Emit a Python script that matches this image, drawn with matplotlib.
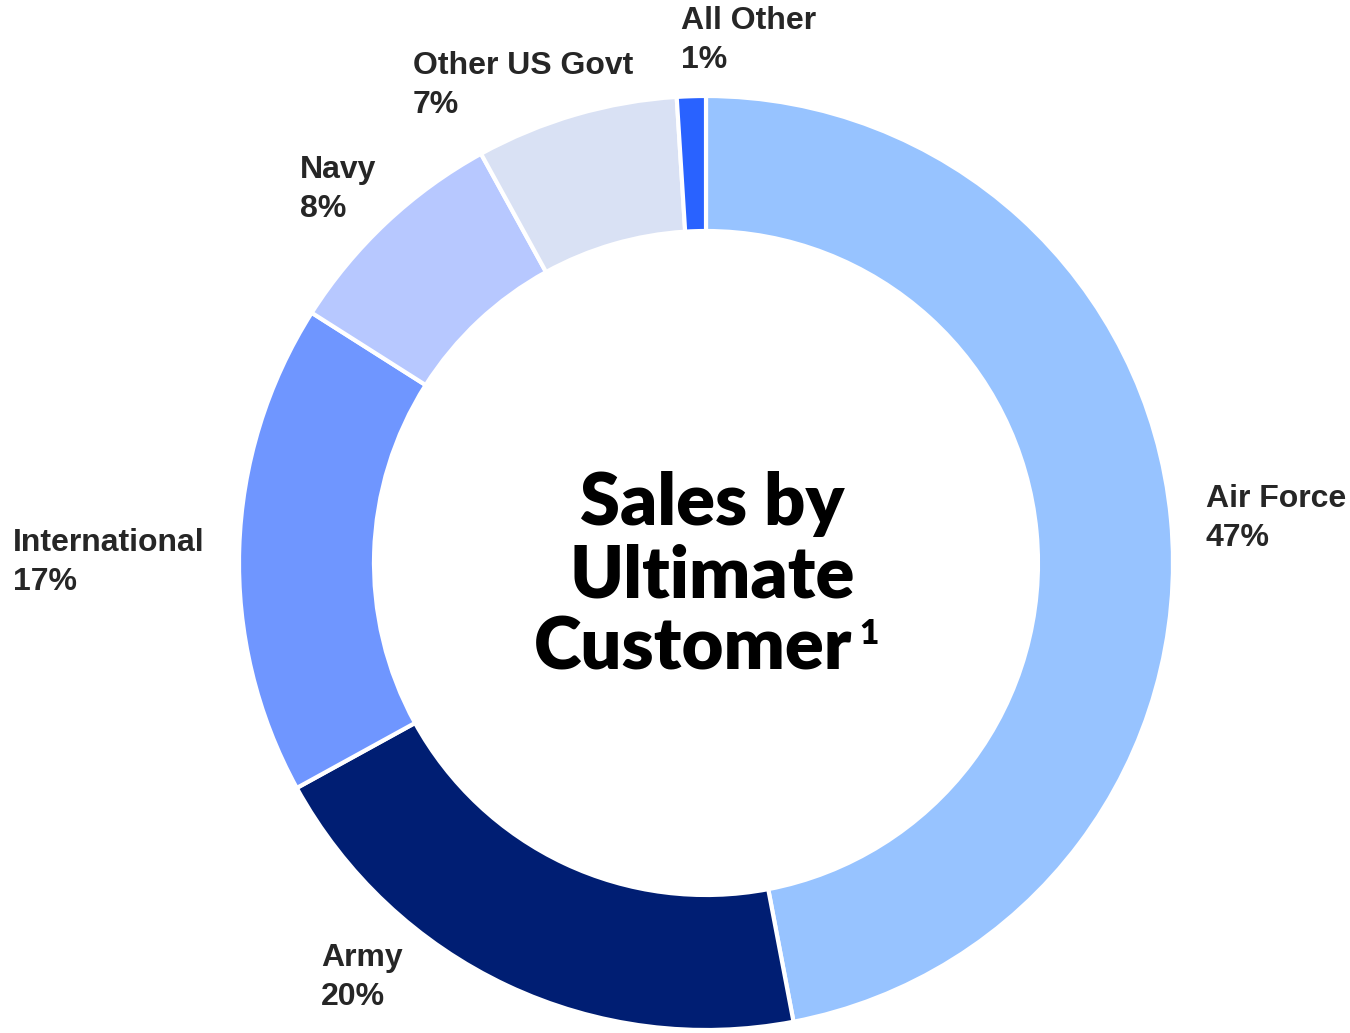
import matplotlib.pyplot as plt

labels = ["Air Force", "Army", "International", "Navy", "Other US Govt", "All Other"]
shares = [47, 20, 17, 8, 7, 1]
colors = ["#97C3FF", "#001E73", "#6F96FF", "#B7C8FF", "#D9E1F4", "#2962FF"]

W, H = 1350, 1033
fig = plt.figure(figsize=(W / 100, H / 100), dpi=100)
ax = fig.add_axes([0, 0, 1, 1])

cx, cy = 706, H - 563
ax.pie(shares, colors=colors, startangle=90, counterclock=False,
       center=(cx, cy), radius=467, frame=True,
       wedgeprops=dict(width=135, edgecolor="white", linewidth=3))
ax.set_xlim(0, W)
ax.set_ylim(0, H)
ax.set_aspect("equal")
ax.axis("off")

# label positions (left x, top-line y in pixels from top)
label_pos = {
    "Air Force": (1206, 499),
    "Army": (321, 958),
    "International": (13, 543),
    "Navy": (300, 170),
    "Other US Govt": (413, 66),
    "All Other": (681, 21),
}
for name, val in zip(labels, shares):
    x, y = label_pos[name]
    ax.text(x, H - y, name, fontsize=23, fontweight="bold", color="#262626",
            family="Liberation Sans", va="center", ha="left")
    ax.text(x, H - y - 39, f"{val}%", fontsize=23, fontweight="bold", color="#262626",
            family="Liberation Sans", va="center", ha="left")

title_kw = dict(fontsize=52, fontweight="heavy", color="black", family="Lato",
                ha="center", va="center")
ax.text(712, H - 504, "Sales by", **title_kw)
ax.text(712, H - 576, "Ultimate", **title_kw)
ax.text(693, H - 648, "Customer", **title_kw)
ax.text(869, H - 634, "1", fontsize=24, fontweight="heavy", family="Lato",
        ha="center", va="center", color="black")

fig.savefig("out.png", dpi=100)
